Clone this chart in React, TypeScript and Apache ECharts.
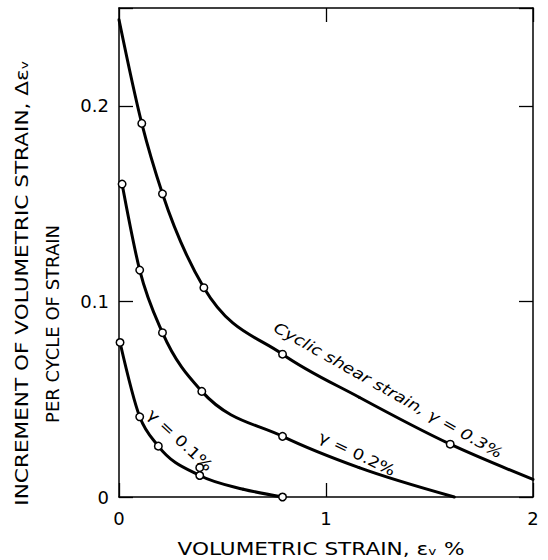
import React, { useEffect, useRef } from "react";
import * as echarts from "echarts";

// ---- data ----
const xTickValues = [0, 1, 2];
const yTickValues = [0, 0.1, 0.2];

// gamma = 0.3 %
const g03MarkX = [0.11, 0.21, 0.41, 0.79, 1.6];
const g03MarkY = [0.191, 0.155, 0.107, 0.073, 0.027];
const g03CurveX = [0, 0.11, 0.21, 0.41, 0.79, 1.16, 1.6, 2.0];
const g03CurveY = [0.244, 0.191, 0.155, 0.107, 0.073, 0.051, 0.027, 0.009];

// gamma = 0.2 %
const g02MarkX = [0.015, 0.1, 0.21, 0.4, 0.79];
const g02MarkY = [0.16, 0.116, 0.084, 0.054, 0.031];
const g02CurveX = [0.015, 0.1, 0.21, 0.4, 0.79, 1.16, 1.62];
const g02CurveY = [0.16, 0.116, 0.084, 0.054, 0.031, 0.015, 0];

// gamma = 0.1 %
const g01MarkX = [0.005, 0.1, 0.19, 0.39, 0.39, 0.79];
const g01MarkY = [0.079, 0.041, 0.026, 0.015, 0.011, 0];
const g01CurveX = [0.005, 0.1, 0.19, 0.39, 0.6, 0.79];
const g01CurveY = [0.079, 0.041, 0.026, 0.011, 0.004, 0];

const curveLabels = ["Cyclic shear strain, γ = 0.3%", "γ = 0.2%", "γ = 0.1%"];

const xTitle = "VOLUMETRIC STRAIN, εᵥ %";
const yTitle1 = "INCREMENT OF VOLUMETRIC STRAIN, Δεᵥ";
const yTitle2 = "PER CYCLE OF STRAIN";

// ---- layout (annotation anchors in data coords, angles in degrees) ----
const labelLayout = [
  { at: [1.3, 0.0545], angle: 29.5, italic: true },
  { at: [1.15, 0.022], angle: 25.5, italic: false },
  { at: [0.295, 0.029], angle: 43, italic: false },
];

const FONT = "DejaVu Sans";

const zip = (xs: number[], ys: number[]) => xs.map((x, i) => [x, ys[i]]);

// monotone (Steffen) tangents in pixel space, as d3.curveMonotoneX
function tangents(p: number[][]): number[] {
  const n = p.length;
  const h: number[] = [];
  const s: number[] = [];
  for (let i = 0; i < n - 1; i++) {
    h[i] = p[i + 1][0] - p[i][0];
    s[i] = h[i] ? (p[i + 1][1] - p[i][1]) / h[i] : 0;
  }
  const m: number[] = new Array(n).fill(0);
  for (let i = 1; i < n - 1; i++) {
    const pp = (s[i - 1] * h[i] + s[i] * h[i - 1]) / (h[i - 1] + h[i]);
    m[i] =
      (Math.sign(s[i - 1]) + Math.sign(s[i])) *
        Math.min(Math.abs(s[i - 1]), Math.abs(s[i]), 0.5 * Math.abs(pp)) || 0;
  }
  m[0] = n > 2 ? (3 * s[0] - m[1]) / 2 : s[0];
  m[n - 1] = n > 2 ? (3 * s[n - 2] - m[n - 2]) / 2 : s[0];
  return m;
}

export default function App() {
  const ref = useRef<HTMLDivElement>(null);

  useEffect(() => {
    if (!ref.current) return;
    const chart = echarts.init(ref.current, null, { renderer: "svg" });

    const axisLine = { show: true, onZero: false, lineStyle: { color: "#000", width: 1.5 } };
    const axisTick = { show: true, inside: true, length: 14, lineStyle: { color: "#000", width: 1.3 } };

    const curveSeries = (xs: number[], ys: number[]) => ({
      type: "custom",
      data: zip(xs, ys),
      encode: { x: 0, y: 1 },
      clip: false,
      z: 2,
      renderItem: (params: any, api: any) => {
        const i = params.dataIndex;
        if (i >= xs.length - 1) return null;
        const pts = xs.map((x, k) => api.coord([x, ys[k]]) as number[]);
        const m = tangents(pts);
        const a = pts[i];
        const b = pts[i + 1];
        const h = b[0] - a[0];
        return {
          type: "bezierCurve",
          shape: {
            x1: a[0],
            y1: a[1],
            x2: b[0],
            y2: b[1],
            cpx1: a[0] + h / 3,
            cpy1: a[1] + (m[i] * h) / 3,
            cpx2: b[0] - h / 3,
            cpy2: b[1] - (m[i + 1] * h) / 3,
          },
          style: { stroke: "#000", fill: "none", lineWidth: 3, lineCap: "round" },
        };
      },
    });
    const markSeries = (xs: number[], ys: number[]) => ({
      type: "scatter",
      data: zip(xs, ys),
      symbol: "circle",
      symbolSize: 7.5,
      itemStyle: { color: "#fff", borderColor: "#000", borderWidth: 1.5, opacity: 1 },
      z: 4,
      clip: false,
    });

    chart.setOption({
      animation: false,
      backgroundColor: "#fff",
      grid: { left: 119, right: 15, top: 8, bottom: 63, containLabel: false },
      xAxis: [
        {
          type: "value",
          min: 0,
          max: 2,
          interval: 1,
          position: "bottom",
          axisLine,
          axisTick,
          splitLine: { show: false },
          axisLabel: {
            fontSize: 18,
            fontFamily: FONT,
            color: "#000",
            margin: 12,
            formatter: (v: number) => (xTickValues.includes(Math.round(v)) ? String(Math.round(v)) : ""),
          },
        },
        {
          type: "value",
          min: 0,
          max: 2,
          interval: 1,
          position: "top",
          axisLine,
          axisTick,
          splitLine: { show: false },
          axisLabel: { show: false },
        },
      ],
      yAxis: [
        {
          type: "value",
          min: 0,
          max: 0.25,
          interval: 0.1,
          position: "left",
          axisLine,
          axisTick,
          splitLine: { show: false },
          axisLabel: {
            fontSize: 18,
            fontFamily: FONT,
            color: "#000",
            margin: 10,
            formatter: (v: number) => {
              const hit = yTickValues.find((t) => Math.abs(t - v) < 1e-6);
              if (hit === undefined) return "";
              return hit === 0 ? "0" : hit.toFixed(1);
            },
          },
        },
        {
          type: "value",
          min: 0,
          max: 0.25,
          interval: 0.1,
          position: "right",
          axisLine,
          axisTick,
          splitLine: { show: false },
          axisLabel: { show: false },
        },
      ],
      series: [
        curveSeries(g03CurveX, g03CurveY),
        curveSeries(g02CurveX, g02CurveY),
        curveSeries(g01CurveX, g01CurveY),
        markSeries(g03MarkX, g03MarkY),
        markSeries(g02MarkX, g02MarkY),
        markSeries(g01MarkX, g01MarkY),
      ],
    });

    const textEl = (
      text: string,
      x: number,
      y: number,
      rotDeg: number,
      fontSize: number,
      scaleX: number,
      italic: boolean
    ) => ({
      type: "text",
      x,
      y,
      rotation: (rotDeg * Math.PI) / 180,
      scaleX,
      scaleY: 1,
      z: 10,
      style: {
        text,
        fontSize,
        fontFamily: FONT,
        fontStyle: italic ? "italic" : "normal",
        fill: "#000",
        align: "center",
        verticalAlign: "middle",
        textAlign: "center",
        textVerticalAlign: "middle",
      },
    });

    const graphics: any[] = [];
    labelLayout.forEach((l, i) => {
      const p = chart.convertToPixel({ xAxisIndex: 0, yAxisIndex: 0 }, l.at) as number[];
      graphics.push(textEl(curveLabels[i], p[0], p[1], -l.angle, 15, 1.2, l.italic));
    });
    graphics.push(textEl(xTitle, 321, 549, 0, 18, 1.2, false));
    graphics.push(textEl(yTitle1, 22, 283, 90, 18, 1.2, false));
    graphics.push(textEl(yTitle2, 52, 324, 90, 18, 1.0, false));

    chart.setOption({ graphic: graphics });

    return () => chart.dispose();
  }, []);

  return (
    <div
      ref={ref}
      style={{ position: "absolute", left: 0, top: 0, width: 548, height: 560, background: "#fff" }}
    />
  );
}
